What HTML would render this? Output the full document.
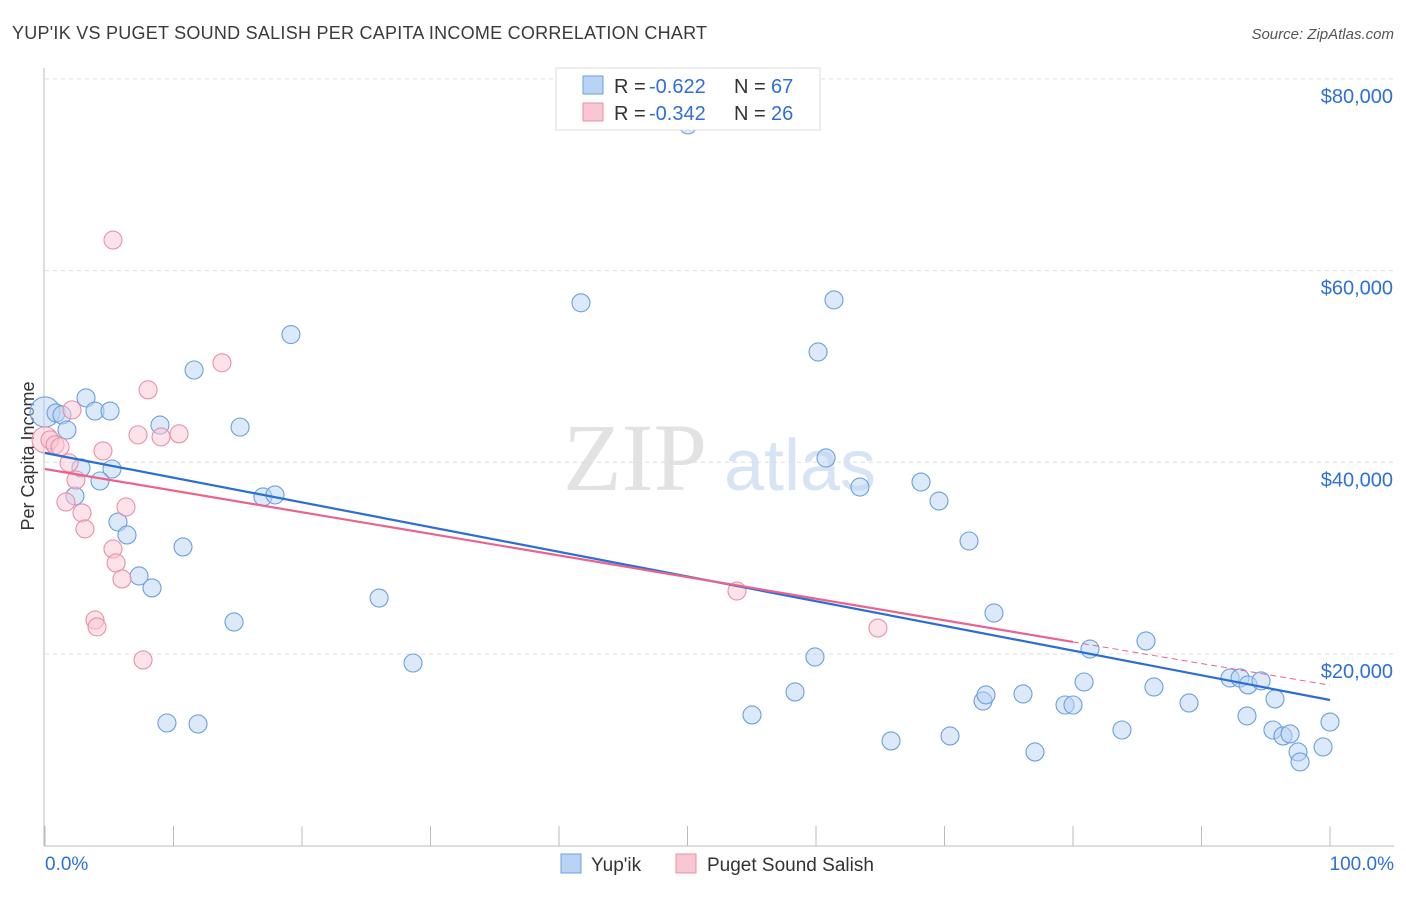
<!DOCTYPE html>
<html><head><meta charset="utf-8"><style>
body{margin:0;background:#fff;font-family:"Liberation Sans",sans-serif}
</style></head><body>
<svg id="c" width="1406" height="892" xmlns="http://www.w3.org/2000/svg">
<text x="12" y="39" font-size="18" fill="#3a3a3a" textLength="695">YUP'IK VS PUGET SOUND SALISH PER CAPITA INCOME CORRELATION CHART</text>
<text x="1394" y="39" font-size="15" fill="#555" font-style="italic" text-anchor="end">Source: ZipAtlas.com</text>
<text x="34" y="456" font-size="18" fill="#333" text-anchor="middle" transform="rotate(-90 34 456)">Per Capita Income</text>
<g><text x="635" y="490" font-size="96" fill="#e2e2e2" font-family="Liberation Serif" text-anchor="middle">ZIP</text><text x="800" y="490" font-size="72" fill="#d6e4f5" text-anchor="middle">atlas</text></g>
<g id="grid"></g><g id="marks"></g>
<g>
<rect x="556" y="68" width="264" height="62" fill="#fff" stroke="#ddd"/>
<rect x="583" y="76" width="20" height="18" fill="#b8d3f3" stroke="#6b9fe0"/>
<rect x="583" y="103" width="20" height="18" fill="#f9c7d4" stroke="#ea8fa9"/>
<text x="614" y="93" font-size="20" fill="#333">R =</text><text x="649" y="93" font-size="20" fill="#2e6fd8">-0.622</text>
<text x="734" y="93" font-size="20" fill="#333">N =</text><text x="771" y="93" font-size="20" fill="#2e6fd8">67</text>
<text x="614" y="120" font-size="20" fill="#333">R =</text><text x="649" y="120" font-size="20" fill="#2e6fd8">-0.342</text>
<text x="734" y="120" font-size="20" fill="#333">N =</text><text x="771" y="120" font-size="20" fill="#2e6fd8">26</text>
</g>
<g>
<rect x="561" y="854" width="20" height="19" fill="#b8d3f3" stroke="#6b9fe0"/>
<text x="591" y="871" font-size="19" fill="#333">Yup'ik</text>
<rect x="676" y="854" width="20" height="19" fill="#f9c7d4" stroke="#ea8fa9"/>
<text x="707" y="871" font-size="19" fill="#333">Puget Sound Salish</text>
</g>
</svg>
<script>
const yTicks=[20000,40000,60000,80000];
const yTickLabels=["$20,000","$40,000","$60,000","$80,000"];
const xTickLabels=["0.0%","100.0%"];
const blueX=[0,0.86,1.32,1.71,3.19,3.89,5.06,2.8,5.21,2.33,4.28,5.68,6.38,8.95,11.6,15.18,19.14,16.96,17.9,10.74,7.32,8.33,14.71,9.49,11.91,26,28.64,41.71,50.04,61.4,60.16,60.78,63.42,68.17,69.57,71.91,73.85,59.92,58.37,55.02,65.84,70.43,77.04,73,73.23,76.11,79.38,80,81.32,80.86,85.68,86.3,83.81,89.03,92.22,93,93.62,94.63,95.72,93.54,95.56,96.34,96.89,97.51,97.67,99.46,100];
const blueY=[45250,45150,44940,43370,46720,45350,45350,39410,39300,36480,38050,33770,32420,43880,49630,43670,53330,36390,36600,31170,28140,26890,23340,12800,12700,25840,19060,56640,75200,56940,51510,40450,37420,37940,35960,31790,24280,19690,16040,13640,10930,11450,9780,15100,15730,15830,14680,14680,20520,17080,21360,16560,12070,14890,17500,17500,16770,17190,15310,13540,12070,11450,11660,9780,8740,10300,12900];
const pinkX=[0,0.39,0.78,1.17,2.1,1.87,2.41,1.63,2.88,3.11,4.51,6.3,5.29,5.53,5.99,5.29,7.24,9.03,10.43,8.02,13.77,3.89,4.05,7.63,53.85,64.82];
const pinkY=[42340,42340,41820,41610,45470,39940,38160,35860,34720,33050,41190,35340,30960,29500,27830,63190,42860,42650,42970,47560,50380,23550,22820,19380,26570,22710];
const blueTrend=[40970,15200];
const pinkTrend=[39300,16750];
const pinkSolidEnd=80;
const X0=45,X1=1330,Y0=845.7,YS=191.7/20000;
const sx=v=>X0+(X1-X0)*v/100, sy=v=>Y0-v*YS;
const NS="http://www.w3.org/2000/svg";
function mk(t,a,p){const e=document.createElementNS(NS,t);for(const k in a)e.setAttribute(k,a[k]);p.appendChild(e);return e;}
const g=document.getElementById('grid'),m=document.getElementById('marks');
yTicks.forEach((v,i)=>{
 const l=mk('line',{x1:45,x2:1394,y1:sy(v),y2:sy(v),stroke:'#ddd','stroke-dasharray':'4,4'},g);
 
 
 const t=mk('text',{x:1393,y:sy(v)+24,'font-size':20,fill:'#2e6fd8','text-anchor':'end'},g);t.textContent=yTickLabels[i];
 
 
});
const ax=mk('line',{x1:44,x2:44,y1:68,y2:846,stroke:'#bbb'},g);


const bx=mk('line',{x1:44,x2:1394,y1:846,y2:846,stroke:'#bbb'},g);


for(let i=0;i<=10;i++){mk('line',{x1:sx(i*10),x2:sx(i*10),y1:826,y2:846,stroke:'#bbb'},g);}
xTickLabels.forEach((s,i)=>{const t=mk('text',{x:i?1394:45,y:870,'font-size':19,fill:'#2e6fd8','text-anchor':i?'end':'start'},g);t.textContent=s;
 
 });
function pts(X,Y,fill,stroke,name){X.forEach((x,i)=>{const c=mk('circle',{cx:sx(x),cy:sy(Y[i]),r:i==0?(name=='pink-point'?13:15):9,fill:fill,'fill-opacity':0.5,stroke:stroke,'stroke-width':1.1},m);
 
 });}
pts(blueX,blueY,'#b8d3f3','#6b9fe0','blue-point');
pts(pinkX,pinkY,'#f9c7d4','#ea8fa9','pink-point');
const bl=mk('line',{x1:sx(0),y1:sy(blueTrend[0]),x2:sx(100),y2:sy(blueTrend[1]),stroke:'#2b6dd6','stroke-width':2.2},m);


const pm=pinkTrend[0]+(pinkTrend[1]-pinkTrend[0])*pinkSolidEnd/100;
const pl=mk('line',{x1:sx(0),y1:sy(pinkTrend[0]),x2:sx(pinkSolidEnd),y2:sy(pm),stroke:'#e8648c','stroke-width':2.2},m);


const pd=mk('line',{x1:sx(pinkSolidEnd),y1:sy(pm),x2:sx(100),y2:sy(pinkTrend[1]),stroke:'#e8648c','stroke-width':1,'stroke-dasharray':'6,4'},m);


</script>
</body></html>
